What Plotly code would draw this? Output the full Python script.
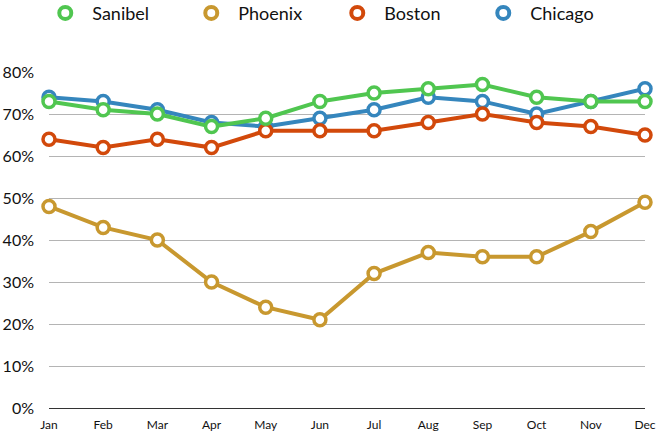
import plotly.graph_objects as go

months = ["Jan", "Feb", "Mar", "Apr", "May", "Jun", "Jul", "Aug", "Sep", "Oct", "Nov", "Dec"]
sanibel = [73, 71, 70, 67, 69, 73, 75, 76, 77, 74, 73, 73]
phoenix = [48, 43, 40, 30, 24, 21, 32, 37, 36, 36, 42, 49]
boston = [64, 62, 64, 62, 66, 66, 66, 68, 70, 68, 67, 65]
chicago = [74, 73, 71, 68, 67, 69, 71, 74, 73, 70, 73, 76]
y_ticks = [0, 10, 20, 30, 40, 50, 60, 70, 80]
y_labels = [f"{v}%" for v in y_ticks]

series = [
    ("Sanibel", sanibel, "#50C650"),
    ("Phoenix", phoenix, "#C8982F"),
    ("Boston", boston, "#D2490B"),
    ("Chicago", chicago, "#3586BD"),
]

fig = go.Figure()
# draw in reverse so Sanibel is on top
for i, (name, vals, col) in reversed(list(enumerate(series))):
    fig.add_trace(go.Scatter(
        x=list(range(len(months))), y=vals, name=name, mode="lines+markers",
        line=dict(color=col, width=4),
        marker=dict(symbol="circle", size=12, color="white", line=dict(color=col, width=3.5)),
        showlegend=False, cliponaxis=False,
    ))
# marker-only legend entries
for i, (name, vals, col) in enumerate(series):
    fig.add_trace(go.Scatter(
        x=[None], y=[None], name=name, mode="markers",
        marker=dict(symbol="circle", size=12, color="white", line=dict(color=col, width=4)),
        legendrank=i + 1,
    ))

font = "Lato, 'Open Sans', sans-serif"
fig.update_layout(
    width=659, height=436,
    margin=dict(l=49, r=14, t=72, b=28, autoexpand=False),
    paper_bgcolor="white", plot_bgcolor="white",
    font=dict(family=font, color="#111"),
    showlegend=True,
    legend=dict(orientation="h", x=-0.018, xanchor="left", y=1.175, yanchor="middle",
                font=dict(size=18, color="#111"), entrywidth=87, entrywidthmode="pixels",
                traceorder="normal", itemwidth=44),
    xaxis=dict(range=[0, 11], tickmode="array", tickvals=list(range(len(months))),
               ticktext=months, showgrid=False, zeroline=False, showline=False,
               tickfont=dict(size=12), ticks="", ticklabelstandoff=8),
    yaxis=dict(range=[0, 80], tickmode="array", tickvals=y_ticks, ticktext=y_labels,
               showgrid=True, gridcolor="#b4b4b4", gridwidth=1,
               zeroline=True, zerolinecolor="#333", zerolinewidth=1.2,
               showline=False, tickfont=dict(size=16), ticks="", ticklabelstandoff=14),
)

fig.write_html("out.html")
